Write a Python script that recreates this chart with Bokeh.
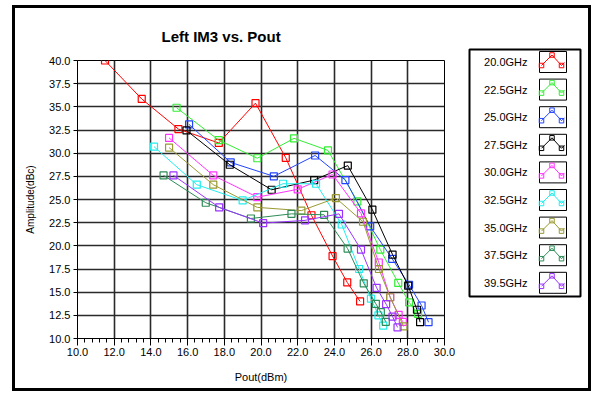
from bokeh.plotting import figure
from bokeh.layouts import row, column
from bokeh.models import Range1d, FixedTicker, NumeralTickFormatter, InlineStyleSheet
from bokeh.core.properties import value
from bokeh.embed import file_html
from bokeh.resources import INLINE

# ---- data ----
labels = ["20.0GHz", "22.5GHz", "25.0GHz", "27.5GHz", "30.0GHz",
          "32.5GHz", "35.0GHz", "37.5GHz", "39.5GHz"]
colors = ["#ff0000", "#33ee33", "#2244ff", "#000000", "#ff33ff",
          "#22eeee", "#999933", "#2e8b57", "#9933ff"]

x_20 = [11.5, 13.5, 15.5, 17.7, 19.7, 21.35, 22.75, 23.9, 24.7, 25.4]
y_20 = [40.0, 35.85, 32.6, 31.1, 35.4, 29.5, 23.3, 18.9, 16.05, 14.0]
x_225 = [15.4, 17.7, 19.8, 21.8, 23.65, 25.25, 26.5, 27.48, 28.07, 28.56]
y_225 = [34.9, 31.4, 29.45, 31.6, 30.3, 24.8, 19.6, 16.0, 13.9, 12.66]
x_25 = [16.08, 18.35, 20.7, 22.95, 24.6, 25.95, 27.15, 28.07, 28.75, 29.13]
y_25 = [33.1, 29.0, 27.5, 29.75, 27.1, 22.1, 18.6, 15.8, 13.56, 11.76]
x_275 = [15.94, 18.3, 20.58, 22.9, 24.73, 26.07, 27.17, 28.02, 28.5, 28.67]
y_275 = [32.45, 28.75, 26.05, 27.1, 28.66, 23.9, 19.05, 15.7, 13.1, 11.76]
x_30 = [14.99, 17.4, 19.8, 22.0, 23.9, 25.45, 26.42, 27.04, 27.5, 27.73]
y_30 = [31.65, 27.6, 25.25, 26.1, 27.7, 23.5, 18.2, 14.45, 12.55, 11.8]
x_325 = [14.17, 16.5, 19.0, 21.2, 23.0, 24.4, 25.35, 25.99, 26.4, 26.66]
y_325 = [30.7, 26.6, 24.9, 26.7, 26.7, 22.3, 17.5, 14.3, 12.5, 11.4]
x_35 = [14.99, 17.4, 19.8, 22.2, 24.08, 25.56, 26.43, 27.04, 27.77]
y_35 = [30.6, 26.6, 24.15, 23.8, 25.15, 22.6, 17.5, 14.45, 11.3]
x_375 = [14.69, 16.99, 19.45, 21.66, 23.44, 24.72, 25.6, 26.26, 26.53, 26.8]
y_375 = [27.6, 24.65, 22.95, 23.45, 23.35, 19.7, 15.95, 13.74, 12.85, 11.8]
x_395 = [15.23, 17.72, 20.12, 22.4, 24.25, 25.45, 26.3, 26.82, 27.17, 27.44]
y_395 = [27.6, 24.15, 22.45, 22.75, 23.45, 19.6, 15.47, 13.7, 12.37, 11.2]

series_x = [x_20, x_225, x_25, x_275, x_30, x_325, x_35, x_375, x_395]
series_y = [y_20, y_225, y_25, y_275, y_30, y_325, y_35, y_375, y_395]

x_ticks = [10, 12, 14, 16, 18, 20, 22, 24, 26, 28, 30]
y_ticks = [10.0, 12.5, 15.0, 17.5, 20.0, 22.5, 25.0, 27.5, 30.0, 32.5, 35.0, 37.5, 40.0]

FONT = "Liberation Sans"

# ---- layout geometry (pixels) ----
H = 395
MAIN_W, LEG_W = 460, 142
FL, FR, FT, FB = 77, 444, 60, 338

p = figure(width=MAIN_W, height=H, output_backend="svg", toolbar_location=None,
           x_range=Range1d(10, 30), y_range=Range1d(10, 40),
           frame_width=FR - FL, frame_height=FB - FT,
           min_border_left=FL, min_border_right=MAIN_W - FR,
           min_border_top=FT, min_border_bottom=H - FB,
           background_fill_color="white", border_fill_color="white")
p.outline_line_color = "black"
p.outline_line_width = 1

p.title.text = "Left IM3 vs. Pout"
p.title.align = "left"
p.title.offset = 84
p.title.standoff = 32
p.title.text_font = FONT
p.title.text_font_size = "15px"
p.title.text_font_style = "bold"
p.title.text_color = "black"

# axes
p.xaxis.ticker = FixedTicker(ticks=x_ticks,
                             minor_ticks=[10 + 0.4 * i for i in range(51)])
p.yaxis.ticker = FixedTicker(ticks=y_ticks, minor_ticks=[])
p.xaxis.formatter = NumeralTickFormatter(format="0.0")
p.yaxis.formatter = NumeralTickFormatter(format="0.0")
for ax in (p.xaxis, p.yaxis):
    ax.axis_line_color = "black"
    ax.major_tick_line_color = "black"
    ax.minor_tick_line_color = "black"
    ax.major_label_text_font = FONT
    ax.major_label_text_font_size = "11px"
    ax.major_label_text_color = "black"
    ax.axis_label_text_font = FONT
    ax.axis_label_text_font_style = "normal"
    ax.axis_label_text_color = "black"
    ax.major_tick_in = 0
    ax.minor_tick_in = 0
p.xaxis.major_tick_out = 7
p.xaxis.minor_tick_out = 4
p.yaxis.major_tick_out = 4
p.xaxis.major_label_standoff = 2
p.yaxis.major_label_standoff = 3
p.xaxis.axis_label = "Pout(dBm)"
p.yaxis.axis_label = "Amplitude(dBc)"
p.xaxis.axis_label_text_font_size = "11px"
p.yaxis.axis_label_text_font_size = "10px"
p.xaxis.axis_label_standoff = 12
p.yaxis.axis_label_standoff = 10

p.xgrid.grid_line_color = "#2a2a2a"
p.ygrid.grid_line_color = "#2a2a2a"
p.xgrid.grid_line_width = 1.6
p.ygrid.grid_line_width = 1.6

# series
for xs, ys, c in zip(series_x, series_y, colors):
    p.line(xs, ys, line_color=c, line_width=1)
    p.scatter(xs, ys, marker="square", size=7, fill_color=None, line_color=c,
              line_width=1.2)

# ---- legend panel (pixel coordinates of the page) ----
leg = figure(width=LEG_W, height=H, output_backend="svg", toolbar_location=None,
             x_range=Range1d(MAIN_W, MAIN_W + LEG_W), y_range=Range1d(H, 0),
             x_axis_location=None, y_axis_location=None,
             frame_width=LEG_W, frame_height=H,
             min_border=0, min_border_left=0, min_border_right=0,
             min_border_top=0, min_border_bottom=0,
             background_fill_color="white", border_fill_color="white")
leg.outline_line_color = None
leg.grid.visible = False

LX0, LX1, LY0, LY1 = 469, 580, 49, 296
ROW0, ROW_STEP = 51, 27.6
SW_L, SW_W, SW_H = 539, 27, 21
n = len(labels)
row_tops = [ROW0 + i * ROW_STEP for i in range(n)]

leg.quad(left=[LX0], right=[LX1], top=[LY0], bottom=[LY1], fill_color=None,
         line_color="black", line_width=2)
leg.text(x=[527] * n, y=[t + 10.5 for t in row_tops], text=labels,
         text_align="right", text_baseline="middle", text_font=value(FONT),
         text_font_size="11px", text_color="black")
leg.quad(left=[SW_L] * n, right=[SW_L + SW_W] * n, top=row_tops,
         bottom=[t + SW_H for t in row_tops], fill_color="white",
         line_color="black", line_width=1)
dx = [2, 12.5, 22, 25]
dy = [14, 3.5, 14, 11]
leg.multi_line(xs=[[SW_L + d for d in dx] for _ in row_tops],
               ys=[[t + d for d in dy] for t in row_tops],
               line_color=colors, line_width=1)
mx, my, mc = [], [], []
for t, c in zip(row_tops, colors):
    for a, b in zip(dx[:3], dy[:3]):
        mx.append(SW_L + a)
        my.append(t + b)
        mc.append(c)
leg.scatter(mx, my, marker="square", size=4.5, fill_color=None, line_color=mc,
            line_width=1)

css = InlineStyleSheet(css="""
:host { position: relative; }
:host::after { content: ''; position: absolute; left: 12px; top: 5px;
  width: 579px; height: 386px; border: 3px solid black; box-sizing: border-box;
  pointer-events: none; z-index: 10; }
""")
layout = row(column(p), column(leg), stylesheets=[css])

open("out.html", "w").write(file_html(layout, INLINE))
